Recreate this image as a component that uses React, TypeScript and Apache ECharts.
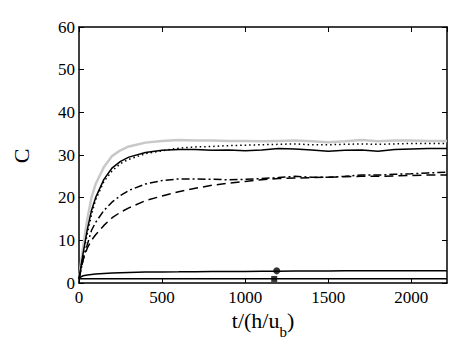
import React, { useEffect, useRef } from "react";
import * as echarts from "echarts";

const T = [0, 25, 50, 75, 100, 150, 200, 250, 300, 400, 500, 600, 700, 800, 900, 1000, 1100, 1200, 1300, 1400, 1500, 1600, 1700, 1800, 1900, 2000, 2100, 2215];

const grayCurve = [1, 8.5, 15, 20, 23.2, 27.2, 29.8, 31.1, 32.0, 32.9, 33.3, 33.5, 33.4, 33.4, 33.3, 33.3, 33.2, 33.3, 33.4, 33.2, 33.0, 33.2, 33.5, 33.2, 33.4, 33.4, 33.3, 33.3];
const solidCurve = [1, 7, 12.5, 17, 20, 24.3, 27, 28.5, 29.5, 30.6, 31.1, 31.3, 31.3, 31.1, 31.2, 31.0, 31.2, 31.5, 31.4, 31.2, 30.9, 31.1, 31.2, 30.9, 31.3, 31.4, 31.5, 31.5];
const dottedCurve = [1, 6.5, 11.5, 16, 19.5, 23.8, 26.3, 28, 29.0, 30.3, 31.0, 31.6, 31.9, 32.0, 32.2, 32.3, 32.4, 32.5, 32.6, 32.4, 32.4, 32.5, 32.6, 32.5, 32.6, 32.7, 32.7, 32.7];
const dashDotCurve = [1, 5.5, 9, 12.3, 14.2, 17, 19, 20.5, 21.7, 23.2, 24.0, 24.4, 24.4, 24.3, 24.2, 24.3, 24.5, 24.7, 25.0, 24.8, 24.8, 25.0, 25.3, 25.3, 25.5, 25.6, 25.8, 26.0];
const dashedCurve = [1, 5.5, 8.2, 10, 11.3, 13.5, 15.3, 16.6, 17.6, 19.3, 20.4, 21.4, 22.2, 22.9, 23.4, 23.8, 24.2, 24.5, 24.6, 24.7, 24.8, 24.9, 25.0, 25.0, 25.1, 25.2, 25.3, 25.3];
const lowCurve = [1.2, 1.7, 1.9, 2.0, 2.1, 2.25, 2.35, 2.4, 2.45, 2.55, 2.6, 2.62, 2.65, 2.68, 2.7, 2.72, 2.75, 2.78, 2.8, 2.82, 2.84, 2.85, 2.86, 2.87, 2.88, 2.9, 2.9, 2.9];
const lowestCurve = [1, 1, 1, 1, 1, 1, 1, 1, 1, 1, 1, 1, 1, 1, 1, 1, 1, 1, 1, 1, 1, 1, 1, 1, 1, 1, 1, 1];

const circleMarker = [[1190, 2.85]];
const squareMarker = [[1175, 0.95]];

const X_MAX = 2215;
const FONT = "Liberation Serif";

const pair = (ys: number[]) => T.map((t, i) => [t, ys[i]]);

export default function App() {
  const ref = useRef<HTMLDivElement>(null);
  useEffect(() => {
    if (!ref.current) return;
    const chart = echarts.init(ref.current, null, { renderer: "svg" });
    const axisLine = { show: true, onZero: false, lineStyle: { color: "#000", width: 1.5 } };
    const tick = { show: true, inside: true, length: 5, lineStyle: { color: "#000", width: 1 } };
    const line = (data: number[], color: string, width: number, type: any) => ({
      type: "line",
      data: pair(data),
      symbol: "none",
      smooth: false,
      lineStyle: { color, width, type },
      z: 3,
    });
    chart.setOption({
      animation: false,
      backgroundColor: "#fff",
      grid: { left: 79, right: 29, top: 27, bottom: 64, containLabel: false },
      xAxis: [
        {
          type: "value",
          min: 0,
          max: X_MAX,
          interval: 500,
          position: "bottom",
          axisLine,
          axisTick: tick,
          splitLine: { show: false },
          axisLabel: {
            color: "#000",
            fontSize: 17,
            fontFamily: FONT,
            margin: 6,
            showMaxLabel: false,
            formatter: (v: number) => String(v),
          },
        },
        {
          type: "value",
          min: 0,
          max: X_MAX,
          interval: 500,
          position: "top",
          axisLine,
          axisTick: tick,
          splitLine: { show: false },
          axisLabel: { show: false },
        },
      ],
      yAxis: [
        {
          type: "value",
          min: 0,
          max: 60,
          interval: 10,
          position: "left",
          axisLine,
          axisTick: tick,
          splitLine: { show: false },
          axisLabel: {
            color: "#000",
            fontSize: 17,
            fontFamily: FONT,
            margin: 4,
            formatter: (v: number) => String(v),
          },
        },
        {
          type: "value",
          min: 0,
          max: 60,
          interval: 10,
          position: "right",
          axisLine,
          axisTick: tick,
          splitLine: { show: false },
          axisLabel: { show: false },
        },
      ],
      graphic: [
        {
          type: "text",
          x: 21,
          y: 156,
          rotation: Math.PI / 2,
          style: {
            text: "C",
            fill: "#000",
            fontSize: 22,
            fontFamily: FONT,
            textAlign: "center",
            textVerticalAlign: "middle",
          },
        },
        {
          type: "text",
          x: 263,
          y: 320,
          style: {
            text: "{a|t/(h/u}{b|b}{a|)}",
            fill: "#000",
            textAlign: "center",
            textVerticalAlign: "middle",
            rich: {
              a: { fontSize: 22, fontFamily: FONT, fill: "#000" },
              b: { fontSize: 15, fontFamily: FONT, fill: "#000", padding: [24, 0, 0, 0] },
            },
          },
        },
      ],
      series: [
        line(grayCurve, "#c8c8c8", 2.5, "solid"),
        line(solidCurve, "#000", 1.5, "solid"),
        line(dottedCurve, "#000", 1.5, [1.5, 3]),
        line(dashDotCurve, "#000", 1.5, [8, 3, 2, 3]),
        line(dashedCurve, "#000", 1.5, [9, 5]),
        line(lowCurve, "#000", 1.5, "solid"),
        line(lowestCurve, "#000", 1.5, "solid"),
        {
          type: "scatter",
          data: circleMarker,
          symbol: "circle",
          symbolSize: 7,
          itemStyle: { color: "#000" },
          z: 4,
        },
        {
          type: "scatter",
          data: squareMarker,
          symbol: "rect",
          symbolSize: 6,
          itemStyle: { color: "#000" },
          z: 4,
        },
      ],
    });
    return () => chart.dispose();
  }, []);
  return <div ref={ref} style={{ width: 476, height: 347, position: "absolute", left: 0, top: 0 }} />;
}
